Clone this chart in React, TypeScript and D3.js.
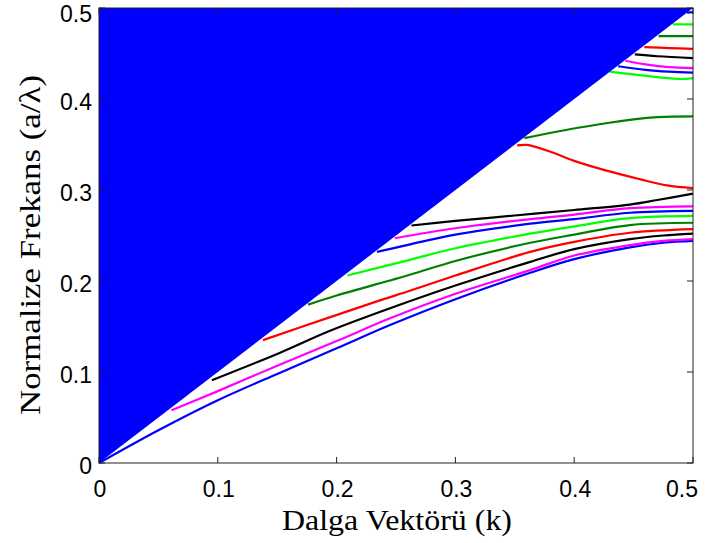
import React from "react";
import * as d3 from "d3";

// ---- data (k, normalized frequency) ----
const xTicks = [0, 0.1, 0.2, 0.3, 0.4, 0.5];
const yTicks = [0, 0.1, 0.2, 0.3, 0.4, 0.5];

const blue1 = [[0, 0], [0.05, 0.036], [0.1, 0.069], [0.152, 0.099], [0.2, 0.126], [0.245, 0.1516], [0.3, 0.18], [0.363, 0.209], [0.4, 0.224], [0.447, 0.237], [0.475, 0.242], [0.5, 0.244]];
const magenta1 = [[0.061, 0.058], [0.1, 0.079], [0.152, 0.108], [0.2, 0.134], [0.245, 0.159], [0.3, 0.186], [0.363, 0.212], [0.4, 0.228], [0.447, 0.2395], [0.475, 0.244], [0.5, 0.246]];
const black1 = [[0.095, 0.091], [0.152, 0.121], [0.194, 0.145], [0.245, 0.17], [0.3, 0.195], [0.363, 0.221], [0.4, 0.235], [0.447, 0.246], [0.475, 0.25], [0.5, 0.252]];
const red1 = [[0.138, 0.135], [0.194, 0.16], [0.237, 0.179], [0.261, 0.189], [0.3, 0.206], [0.363, 0.232], [0.4, 0.243], [0.447, 0.253], [0.5, 0.257]];
const darkgreen1 = [[0.176, 0.174], [0.2, 0.184], [0.261, 0.2066], [0.3, 0.222], [0.363, 0.242], [0.4, 0.251], [0.447, 0.2615], [0.5, 0.264]];
const lightgreen1 = [[0.209, 0.206], [0.261, 0.223], [0.3, 0.236], [0.363, 0.252], [0.4, 0.26], [0.447, 0.269], [0.5, 0.2715]];
const blue2 = [[0.234, 0.232], [0.261, 0.24], [0.3, 0.251], [0.363, 0.263], [0.4, 0.268], [0.447, 0.275], [0.5, 0.277]];
const magenta2 = [[0.249, 0.247], [0.3, 0.258], [0.363, 0.268], [0.4, 0.273], [0.447, 0.28], [0.5, 0.282]];
const black2 = [[0.263, 0.261], [0.3, 0.266], [0.35, 0.272], [0.4, 0.278], [0.447, 0.284], [0.47, 0.289], [0.5, 0.296]];
const red2 = [[0.352, 0.349], [0.36, 0.3495], [0.38, 0.342], [0.4, 0.332], [0.428, 0.321], [0.455, 0.312], [0.478, 0.305], [0.5, 0.302]];
const darkgreen2 = [[0.358, 0.357], [0.385, 0.364], [0.428, 0.3736], [0.47, 0.38], [0.5, 0.381]];
const lightgreen2 = [[0.43, 0.43], [0.45, 0.427], [0.47, 0.424], [0.49, 0.422], [0.5, 0.423]];
const blue3 = [[0.437, 0.436], [0.46, 0.432], [0.48, 0.43], [0.5, 0.429]];
const magenta3 = [[0.443, 0.442], [0.46, 0.438], [0.48, 0.435], [0.5, 0.434]];
const black3 = [[0.451, 0.449], [0.47, 0.447], [0.5, 0.445]];
const red3 = [[0.459, 0.457], [0.48, 0.456], [0.5, 0.455]];
const darkgreen3 = [[0.471, 0.469], [0.5, 0.469]];
const lightgreen3 = [[0.483, 0.482], [0.5, 0.482]];
const blue4 = [[0.495, 0.495], [0.5, 0.4955]];

const lightCone = [[0, 0], [0.5, 0.5], [0, 0.5]];

const bands = [
  { data: blue1, color: "#0000ff" },
  { data: magenta1, color: "#ff00ff" },
  { data: black1, color: "#000000" },
  { data: red1, color: "#ff0000" },
  { data: darkgreen1, color: "#008000" },
  { data: lightgreen1, color: "#00ff00" },
  { data: blue2, color: "#0000ff" },
  { data: magenta2, color: "#ff00ff" },
  { data: black2, color: "#000000" },
  { data: red2, color: "#ff0000" },
  { data: darkgreen2, color: "#008000" },
  { data: lightgreen2, color: "#00ff00" },
  { data: blue3, color: "#0000ff" },
  { data: magenta3, color: "#ff00ff" },
  { data: black3, color: "#000000" },
  { data: red3, color: "#ff0000" },
  { data: darkgreen3, color: "#008000" },
  { data: lightgreen3, color: "#00ff00" },
  { data: blue4, color: "#0000ff" },
];

const W = 705;
const H = 543;
const L = 99, R = 693, T = 8, B = 463;

export default function App() {
  const x = d3.scaleLinear().domain([0, 0.5]).range([L, R]);
  const y = d3.scaleLinear().domain([0, 0.5]).range([B, T]);
  const line = d3
    .line<number[]>()
    .x((d) => x(d[0]))
    .y((d) => y(d[1]))
    .curve(d3.curveCatmullRom.alpha(0.5));
  const poly = d3
    .line<number[]>()
    .x((d) => x(d[0]))
    .y((d) => y(d[1]));
  const tickLen = 6;
  return (
    <svg
      width={W}
      height={H}
      style={{ position: "absolute", left: 0, top: 0, background: "#fff" }}
    >
      <rect x={0} y={0} width={W} height={H} fill="#fff" />
      <g>
        {bands.map((b, i) => (
          <path key={i} d={line(b.data) || ""} fill="none" stroke={b.color} strokeWidth={2.2} />
        ))}
      </g>
      <path d={(poly(lightCone) || "") + "Z"} fill="#0000ff" stroke="none" />
      <rect x={L} y={T} width={R - L} height={B - T} fill="none" stroke="#222" strokeWidth={1} />
      {xTicks.map((t, i) => (
        <g key={"x" + t}>
          <line x1={x(t)} x2={x(t)} y1={B} y2={B - tickLen} stroke="#222" />
          <line x1={x(t)} x2={x(t)} y1={T} y2={T + tickLen} stroke="#222" />
          <text
            x={i === xTicks.length - 1 ? 698 : x(t) + 1}
            y={497}
            textAnchor={i === xTicks.length - 1 ? "end" : "middle"}
            fontFamily="Liberation Sans, Arial, sans-serif"
            fontSize={23}
            fill="#000"
          >
            {t === 0 ? "0" : String(t)}
          </text>
        </g>
      ))}
      {yTicks.map((t) => (
        <g key={"y" + t}>
          <line x1={L} x2={L + tickLen} y1={y(t)} y2={y(t)} stroke="#222" />
          <line x1={R} x2={R - tickLen} y1={y(t)} y2={y(t)} stroke="#222" />
          <text
            x={92}
            y={Math.max(y(t) + 3, 14)}
            dy="0.36em"
            textAnchor="end"
            fontFamily="Liberation Sans, Arial, sans-serif"
            fontSize={23}
            fill="#000"
          >
            {t === 0 ? "0" : String(t)}
          </text>
        </g>
      ))}
      <text
        x={397}
        y={530}
        textAnchor="middle"
        fontFamily="Liberation Serif, Times New Roman, serif"
        fontSize={30}
        textLength={230}
        lengthAdjust="spacingAndGlyphs"
        fill="#000"
      >
        Dalga Vektörü (k)
      </text>
      <text
        transform={`translate(40,245) rotate(-90)`}
        textAnchor="middle"
        fontFamily="Liberation Serif, Times New Roman, serif"
        fontSize={30}
        textLength={340}
        lengthAdjust="spacingAndGlyphs"
        fill="#000"
      >
        Normalize Frekans (a/λ)
      </text>
    </svg>
  );
}
